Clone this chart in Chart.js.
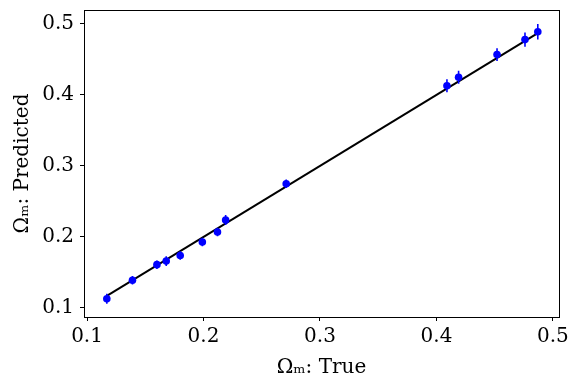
<!DOCTYPE html>
<html>
<head>
<meta charset="utf-8">
<script src="https://cdn.jsdelivr.net/npm/chart.js@4.4.1/dist/chart.umd.min.js"></script>
<style>
  html, body { margin: 0; padding: 0; background: #ffffff; }
  #wrap { width: 582px; height: 388px; position: relative; }
</style>
</head>
<body>
<div id="wrap"><canvas id="c" width="582" height="388"></canvas></div>
<script>
// ---- data ----
const trueVals = [0.117, 0.139, 0.160, 0.168, 0.180, 0.199, 0.212, 0.219, 0.271, 0.409, 0.419, 0.452, 0.476, 0.487];
const predVals = [0.113, 0.139, 0.161, 0.166, 0.174, 0.193, 0.207, 0.224, 0.275, 0.413, 0.425, 0.457, 0.478, 0.489];
const errVals  = [0.007, 0.006, 0.006, 0.007, 0.006, 0.006, 0.006, 0.007, 0.006, 0.009, 0.009, 0.009, 0.010, 0.011];
const xTicks = [0.1, 0.2, 0.3, 0.4, 0.5];
const yTicks = [0.1, 0.2, 0.3, 0.4, 0.5];
const xLabel = 'Ωₘ: True';
const yLabel = 'Ωₘ: Predicted';

// ---- build datasets ----
const points = trueVals.map((x, i) => ({ x: x, y: predVals[i] }));
const errSegs = [];
trueVals.forEach((x, i) => {
  errSegs.push({ x: x, y: predVals[i] - errVals[i] });
  errSegs.push({ x: x, y: predVals[i] + errVals[i] });
  errSegs.push({ x: x, y: null });
});
const lo = Math.min(...trueVals), hi = Math.max(...trueVals);
const identity = [{ x: lo, y: lo }, { x: hi, y: hi }];

const FONT = 'DejaVu Serif';

const frame = {
  id: 'frame',
  afterDatasetsDraw(chart) {
    const a = chart.chartArea, ctx = chart.ctx;
    ctx.save();
    ctx.strokeStyle = '#000';
    ctx.lineWidth = 1;
    ctx.strokeRect(Math.round(a.left) + 0.5, Math.round(a.top) + 0.5,
                   Math.round(a.right - a.left), Math.round(a.bottom - a.top));
    ctx.restore();
  }
};

new Chart(document.getElementById('c'), {
  type: 'scatter',
  data: {
    datasets: [
      {
        label: 'points',
        data: points,
        pointRadius: 3.8,
        pointBackgroundColor: '#0000ff',
        pointBorderColor: '#0000ff',
        pointBorderWidth: 0,
        showLine: false,
        order: 0
      },
      {
        label: 'errors',
        data: errSegs,
        showLine: true,
        spanGaps: false,
        pointRadius: 0,
        borderColor: '#0000ff',
        borderWidth: 1.6,
        order: 1
      },
      {
        label: 'identity',
        data: identity,
        showLine: true,
        pointRadius: 0,
        borderColor: '#000000',
        borderWidth: 2,
        order: 2
      }
    ]
  },
  options: {
    responsive: false,
    animation: false,
    devicePixelRatio: 1,
    layout: { padding: { left: 0, right: 23, top: 10, bottom: 0 } },
    plugins: { legend: { display: false }, tooltip: { enabled: false } },
    scales: {
      x: {
        type: 'linear',
        min: 0.0974,
        max: 0.5052,
        afterBuildTicks: s => { s.ticks = xTicks.map(v => ({ value: v })); },
        afterFit: s => { s.height = 71; s.paddingLeft = 0; s.paddingRight = 0; },
        grid: { display: true, drawOnChartArea: false, drawTicks: true, tickLength: 4, tickColor: '#000', color: '#000' },
        border: { display: true, color: '#000', width: 1 },
        ticks: { color: '#000', padding: 4, maxRotation: 0, font: { family: FONT, size: 20 }, callback: v => v.toFixed(1) },
        title: { display: true, text: xLabel, color: '#000', font: { family: FONT, size: 20 }, padding: { top: 0, bottom: 8 } }
      },
      y: {
        type: 'linear',
        min: 0.0873,
        max: 0.5197,
        afterBuildTicks: s => { s.ticks = yTicks.map(v => ({ value: v })); },
        afterFit: s => { s.width = 84; s.paddingTop = 0; s.paddingBottom = 0; },
        grid: { display: true, drawOnChartArea: false, drawTicks: true, tickLength: 4, tickColor: '#000', color: '#000' },
        border: { display: true, color: '#000', width: 1 },
        ticks: { color: '#000', padding: 6, font: { family: FONT, size: 20 }, callback: v => v.toFixed(1) },
        title: { display: true, text: yLabel, color: '#000', font: { family: FONT, size: 20 }, padding: { top: 11, bottom: 0 } }
      }
    }
  },
  plugins: [frame]
});
</script>
</body>
</html>
